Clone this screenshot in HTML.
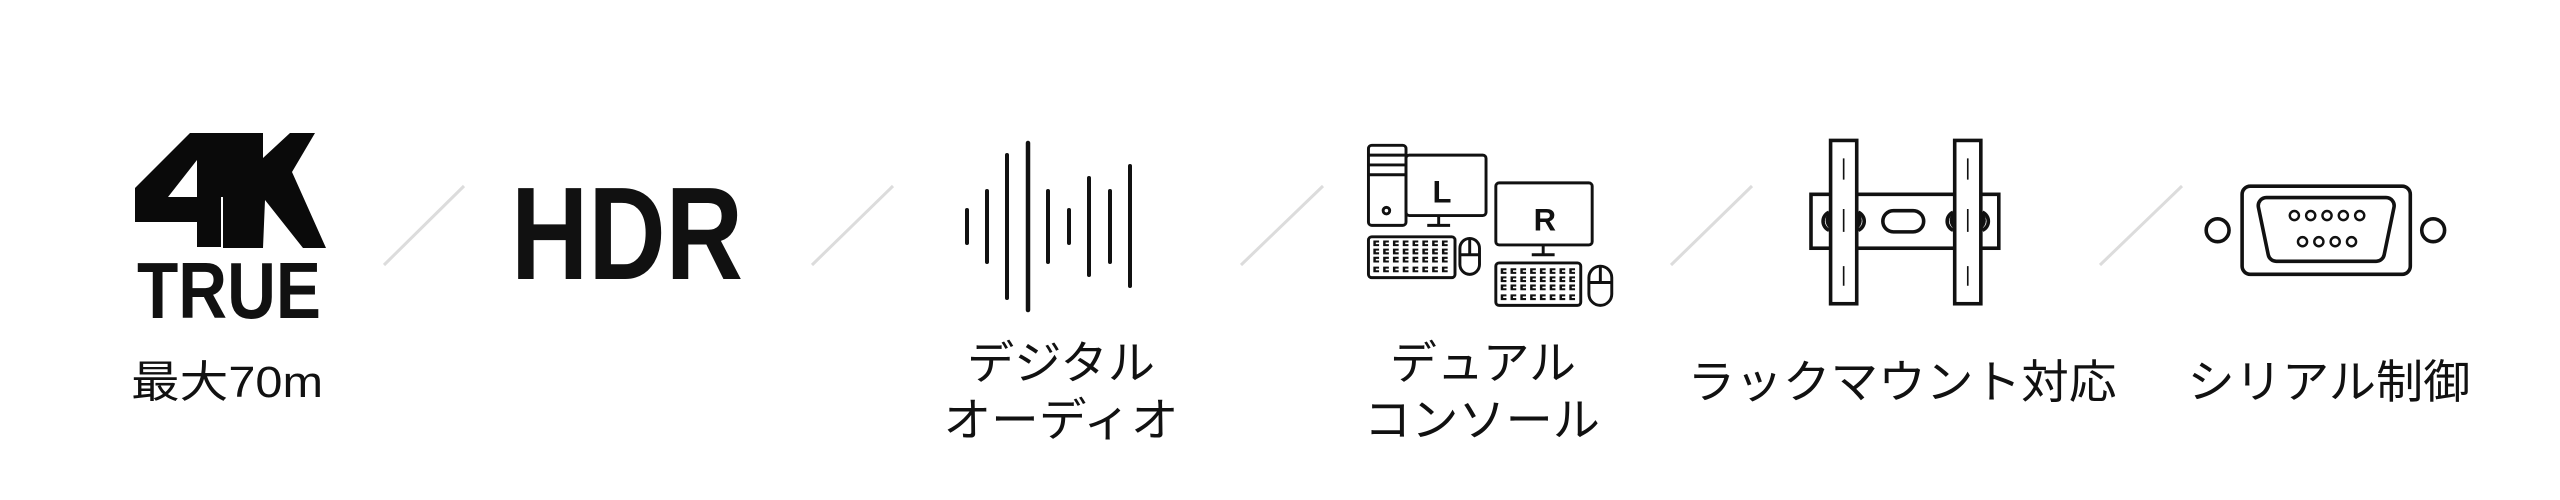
<!DOCTYPE html>
<html><head><meta charset="utf-8"><style>
html,body{margin:0;padding:0;background:#fff;width:2560px;height:500px;overflow:hidden}
svg{display:block}
text{font-family:"Liberation Sans","Noto Sans CJK JP",sans-serif;fill:#111}
</style></head><body>
<svg width="2560" height="500" viewBox="0 0 2560 500" xmlns="http://www.w3.org/2000/svg">
<!-- 4K TRUE -->
<polygon points="135,188 190,133 221,133 221,247 197,247 197,222 135,222" fill="#0a0a0a"/>
<polygon points="168,197 197,197 197,160" fill="#fff"/>
<polygon points="223,133 263,133 263,158 290,133 315,133 292,172 326,248 303,248 265,200 263,248 223,248" fill="#0a0a0a"/>
<rect x="219" y="133" width="6" height="64" fill="#0a0a0a"/>
<text x="229" y="318" text-anchor="middle" font-size="80" font-weight="bold" textLength="184" lengthAdjust="spacingAndGlyphs">TRUE</text>
<text x="227" y="397" text-anchor="middle" font-size="44" textLength="192" lengthAdjust="spacingAndGlyphs">最大70m</text>
<!-- HDR -->
<text x="627" y="279" text-anchor="middle" font-size="132" font-weight="bold" textLength="232" lengthAdjust="spacingAndGlyphs">HDR</text>
<!-- slashes -->
<g stroke="#dcdcdc" stroke-width="3">
<line x1="384" y1="265" x2="464" y2="186"/>
<line x1="812" y1="265" x2="893" y2="186"/>
<line x1="1241" y1="265" x2="1323" y2="186"/>
<line x1="1671" y1="265" x2="1752" y2="186"/>
<line x1="2100" y1="265" x2="2182" y2="186"/>
</g>
<!-- audio -->
<g stroke="#111" stroke-width="4" stroke-linecap="round">
<line x1="967" y1="210" x2="967" y2="243"/>
<line x1="987" y1="191" x2="987" y2="262"/>
<line x1="1007" y1="155" x2="1007" y2="298"/>
<line x1="1028" y1="143" x2="1028" y2="310" stroke-width="4.5"/>
<line x1="1048" y1="191" x2="1048" y2="262"/>
<line x1="1069" y1="210" x2="1069" y2="243"/>
<line x1="1089" y1="178" x2="1089" y2="275"/>
<line x1="1110" y1="191" x2="1110" y2="262"/>
<line x1="1130" y1="166" x2="1130" y2="286"/>
</g>
<text x="1061" y="379" text-anchor="middle" font-size="46" textLength="188" lengthAdjust="spacingAndGlyphs">デジタル</text>
<text x="1061" y="436" text-anchor="middle" font-size="46" textLength="235" lengthAdjust="spacingAndGlyphs">オーディオ</text>
<!-- console -->
<g transform="scale(1.633)" fill="none" stroke="#111" stroke-width="1.8">
<rect x="838" y="89" width="23" height="49" rx="2"/>
<line x1="838" y1="95" x2="861" y2="95"/><line x1="838" y1="101" x2="861" y2="101"/><line x1="838" y1="107" x2="861" y2="107"/>
<circle cx="849" cy="129" r="2"/>
<rect x="861" y="95" width="49" height="37" rx="2" fill="#fff"/>
<line x1="881" y1="132" x2="881" y2="138"/><line x1="874" y1="138" x2="888" y2="138"/>
<rect x="838" y="145" width="53" height="25" rx="2"/>
<rect x="894" y="146" width="12" height="22" rx="6"/><line x1="894" y1="156" x2="906" y2="156"/><line x1="900" y1="146" x2="900" y2="156"/>
<rect x="916" y="112" width="59" height="38" rx="2" fill="#fff"/>
<line x1="945" y1="150" x2="945" y2="156"/><line x1="938" y1="156" x2="952" y2="156"/>
<rect x="916" y="161" width="52" height="26" rx="2"/>
<rect x="973" y="163" width="14" height="24" rx="7"/><line x1="973" y1="173" x2="987" y2="173"/><line x1="980" y1="163" x2="980" y2="173"/>
<path d="M841 149h47M841 154h47M841 159h47M841 165h47" stroke-dasharray="3.5 2.5" stroke-width="3.5"/>
<path d="M919 166h46M919 171h46M919 176h46M919 182h46" stroke-dasharray="3.5 2.5" stroke-width="3.5"/>
</g>
<g transform="scale(1.633)">
<path d="M842 149h45M842 154h45M842 159h45M842 165h45M920 166h45M920 171h45M920 176h45M920 182h45" stroke="#fff" stroke-width="1" stroke-dasharray="2.5 3.5" stroke-dashoffset="-0.5"/>
<text x="883" y="124" text-anchor="middle" font-size="19" font-weight="bold">L</text>
<text x="946" y="141" text-anchor="middle" font-size="19" font-weight="bold">R</text>
</g>
<text x="1483" y="379" text-anchor="middle" font-size="46" textLength="186" lengthAdjust="spacingAndGlyphs">デュアル</text>
<text x="1482" y="436" text-anchor="middle" font-size="46" textLength="236" lengthAdjust="spacingAndGlyphs">コンソール</text>
<!-- rack -->
<g transform="scale(1.633)" fill="none" stroke="#111" stroke-width="2.2">
<rect x="1109" y="119" width="115" height="33"/>
<rect x="1153" y="129" width="25" height="13" rx="6.5"/>
<ellipse cx="1129" cy="135" rx="10" ry="7"/><ellipse cx="1205" cy="135" rx="10" ry="7"/>
<rect x="1121" y="86" width="16" height="100" fill="#fff"/>
<rect x="1197" y="86" width="16" height="100" fill="#fff"/>
<path d="M1120 130a6 6 0 0 0 0 11M1138 130a6 6 0 0 1 0 11M1196 130a6 6 0 0 0 0 11M1214 130a6 6 0 0 1 0 11" />
<g stroke-width="1"><path d="M1129 97v13M1129 128v14M1129 163v12M1205 97v13M1205 128v14M1205 163v12"/></g>
</g>
<text x="1902" y="398" text-anchor="middle" font-size="46" textLength="429" lengthAdjust="spacingAndGlyphs">ラックマウント対応</text>
<!-- serial -->
<g transform="scale(1.633)" fill="none" stroke="#111" stroke-width="2.2">
<rect x="1373" y="114" width="103" height="54" rx="5"/>
<path d="M1388 121h73a5 5 0 0 1 5 6l-6 29a5 5 0 0 1-5 4h-61a5 5 0 0 1-5-4l-6-29a5 5 0 0 1 5-6z"/>
<circle cx="1358" cy="141" r="7"/><circle cx="1490" cy="141" r="7"/>
<g stroke-width="1.5">
<circle cx="1405" cy="132" r="2.8"/><circle cx="1415" cy="132" r="2.8"/><circle cx="1425" cy="132" r="2.8"/><circle cx="1435" cy="132" r="2.8"/><circle cx="1445" cy="132" r="2.8"/>
<circle cx="1410" cy="148" r="2.8"/><circle cx="1420" cy="148" r="2.8"/><circle cx="1430" cy="148" r="2.8"/><circle cx="1440" cy="148" r="2.8"/>
</g>
</g>
<text x="2329" y="398" text-anchor="middle" font-size="46" textLength="283" lengthAdjust="spacingAndGlyphs">シリアル制御</text>
</svg>
</body></html>
